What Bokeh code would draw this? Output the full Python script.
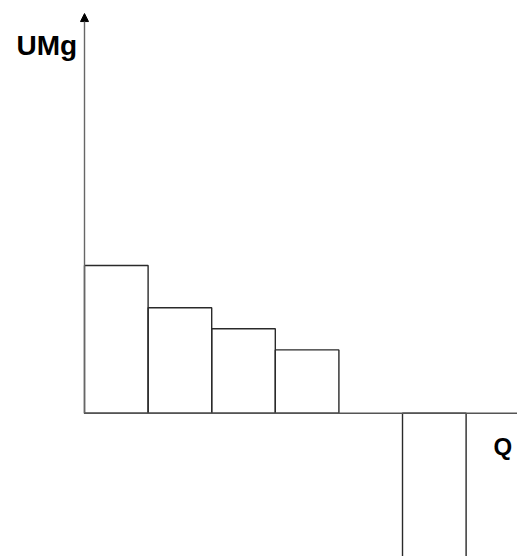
from bokeh.plotting import figure
from bokeh.models import Arrow, NormalHead, Label, Range1d
from bokeh.embed import file_html
from bokeh.resources import INLINE

# Data: marginal utility (UMg) for each unit of quantity (Q)
q_left = [0, 1, 2, 3, 5]
q_right = [1, 2, 3, 4, 6]
umg = [7, 5, 4, 3, -8]

x_label = "Q"
y_label = "UMg"

W, H = 517, 556
p = figure(width=W, height=H, output_backend="svg", toolbar_location=None,
           x_axis_location=None, y_axis_location=None, min_border=0,
           outline_line_color=None, background_fill_color="white",
           border_fill_color="white")
p.x_range = Range1d(-1.3208, 6.808)
p.y_range = Range1d(-6.791, 19.559)
p.grid.visible = False

# bars
p.quad(left=q_left, right=q_right, bottom=[0] * len(umg), top=umg,
       fill_color=None, line_color="#2a2a2a", line_width=1.4)

# x axis line
p.segment(x0=[0], y0=[0], x1=[8], y1=[0], line_color="#555555", line_width=1.4)

# y axis with arrow
p.add_layout(Arrow(x_start=0, y_start=0, x_end=0, y_end=18.94,
                   line_color="#666666", line_width=1.4,
                   end=NormalHead(size=8, fill_color="black", line_color="black")))

p.add_layout(Label(x=16, y=H - 45, x_units="screen", y_units="screen", text=y_label,
                   text_font="Liberation Sans", text_font_style="bold",
                   text_font_size="28px", text_color="black",
                   text_baseline="alphabetic"))
p.add_layout(Label(x=493, y=H - 446, x_units="screen", y_units="screen", text=x_label,
                   text_font="Liberation Sans", text_font_style="bold",
                   text_font_size="24px", text_color="black",
                   text_baseline="alphabetic"))

open("out.html", "w").write(file_html(p, INLINE))
